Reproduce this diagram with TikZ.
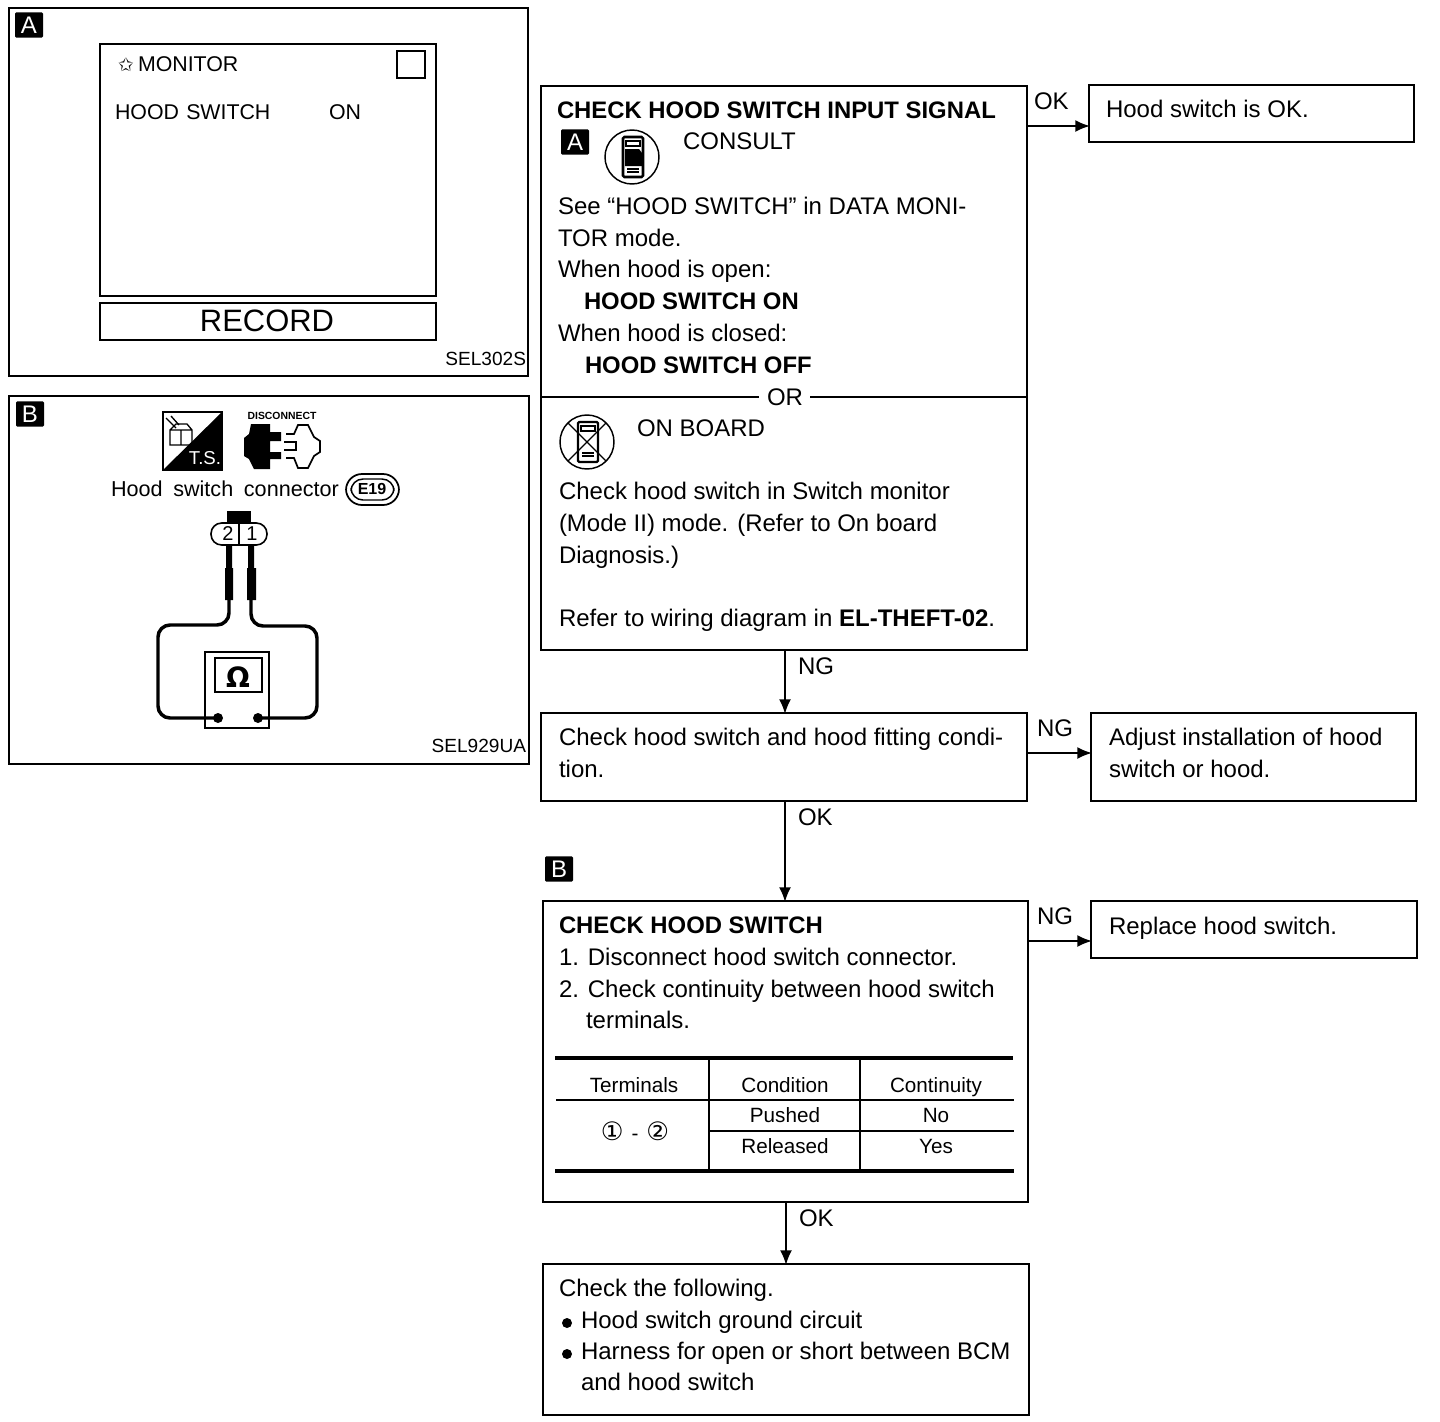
\documentclass[tikz,border=0pt]{standalone}
\usepackage{fontspec}
\setmainfont{Liberation Sans}
\newfontfamily\djv{DejaVu Sans}
\usetikzlibrary{arrows.meta,fit}
\tikzset{
 every picture/.style={line width=1.5pt},
 boxs/.style={draw=black,line width=1.5pt,inner sep=0pt,fit={#1}},
 tx/.style={anchor=base west,inner sep=0pt,xshift=-0.75pt,yshift=0.75pt,font=\fontsize{18}{18}\selectfont},
 bf/.style={anchor=base west,inner sep=0pt,xshift=-0.75pt,yshift=0.75pt,font=\fontsize{17.9}{18}\selectfont\bfseries},
 mon/.style={anchor=base west,inner sep=0pt,font=\fontsize{16}{16}\selectfont},
 cell/.style={anchor=base,inner sep=0pt,font=\fontsize{15.5}{15.5}\selectfont},
 code/.style={anchor=base east,inner sep=0pt,font=\fontsize{14.3}{15}\selectfont},
 tag/.style={fill=black,text=white,inner sep=0pt,rounded corners=1pt,font=\fontsize{18}{18}\selectfont,minimum width=21pt,minimum height=19pt},
 flow/.style={line width=1.5pt,shorten >=-1.5pt,-{Latex[length=11pt,width=9pt]}},
 rule/.style={line width=1.1pt},
 thick rule/.style={line width=2.6pt},
 wire/.style={line width=2.6pt,rounded corners=9pt},
}
\begin{document}
\begin{tikzpicture}[x=0.75pt,y=-0.75pt]
\useasboundingbox[fill=white] (0,0) rectangle (1440,1422);
% panel A
\node[boxs={(9,8)(528,376)}] (panelA) {};
\node[tag] (tagA) at (29,25) {A};
\node[boxs={(100,44)(436,296)}] (screen) {};
\node[boxs={(397,51)(425,78)}] (square) {};
\node[boxs={(100,303)(436,340)}] (recbox) {};
\node[anchor=center,inner sep=0pt,font=\fontsize{23.2}{24}\selectfont] (record) at (267,321) {RECORD};
\node[mon] (star) at (117,71) {\djv\fontsize{14}{14}\selectfont\char"2729};
\node[mon] (monitor) at (137,71) {MONITOR};
\node[mon] (hs) at (114,119) {HOOD\hspace{1pt} SWITCH};
\node[mon] (on) at (328,119) {ON};
\node[code] (sel1) at (527,365) {SEL302S};
% panel B
\node[boxs={(9,396)(529,764)}] (panelB) {};
\node[tag] (tagB) at (30,414) {B};
% T.S. icon
\node[boxs={(163,412)(222,470)}] (ts) {};
\fill (222,412) -- (222,470) -- (163,470) -- cycle;
\node[anchor=center,inner sep=0pt,text=white,font=\fontsize{14}{14}\selectfont] (tst) at (205,458) {T.S.};
\draw[line width=1pt] (170,430) rectangle (181,445) (181,430) rectangle (192,445) (170,430) -- (176,424) -- (187,424) -- (192,430) (192,430) -- (181,430);
\draw[line width=1pt] (166,418) -- (176,428) (171,416) -- (179,425);
% disconnect icon
\node[anchor=center,inner sep=0pt,font=\fontsize{7.8}{7.8}\selectfont\bfseries] (disc) at (282,416) {DISCONNECT};
\fill (251,424) -- (270,424) -- (270,432) -- (281,432) -- (281,441) -- (270,441) -- (270,452) -- (281,452) -- (281,459) -- (270,459) -- (270,469) -- (254,469) -- (249,459) -- (244,456) -- (244,438) -- (249,434) -- cycle;
\draw[line width=1.3pt] (286,434) -- (294,434) -- (298,425) -- (308,425) -- (314,437) -- (320,441) -- (320,452) -- (314,456) -- (308,468) -- (298,468) -- (294,458) -- (286,458);
\draw[line width=1.3pt] (284,442) -- (296,442) -- (296,450) -- (284,450);
\node[tx] (hsc) at (111,497) {\fontsize{16.2}{16}\selectfont Hood\hspace{3.5pt} switch\hspace{3.5pt} connector};
\draw[line width=1.3pt,rounded corners=12pt] (346,474) rectangle (399,505);
\draw[line width=1.1pt,rounded corners=9pt] (351,479) rectangle (394,500);
\node[anchor=center,inner sep=0pt,font=\fontsize{12}{12}\selectfont\bfseries] (e19) at (372,489) {E19};
% harness connector
\draw[line width=1.2pt,rounded corners=8pt] (211,523) rectangle (267,545);
\fill (227,511) rectangle (251,523);
\draw[line width=1.2pt] (239,523) -- (239,545);
\node[anchor=center,inner sep=0pt,font=\fontsize{15}{15}\selectfont] (t2) at (228,534) {2};
\node[anchor=center,inner sep=0pt,font=\fontsize{15}{15}\selectfont] (t1) at (252,534) {1};
\fill (226,545) rectangle (232,568) (225,568) rectangle (233,600);
\fill (248,545) rectangle (254,568) (247,568) rectangle (256,600);
\node[boxs={(205,652)(269,728)}] (meter) {};
\node[boxs={(215,658)(262,692)}] (mscreen) {};
\node[anchor=center,inner sep=0pt,font=\fontsize{21}{21}\selectfont\bfseries] (ohm) at (238,677) {\djv\bfseries\char"03A9};
\coordinate (d1) at (218,718);
\coordinate (d2) at (258,718);
\draw[wire] (229,600) -- (229,625) -- (158,625) -- (158,718) -- (d1);
\draw[wire] (251,600) -- (251,626) -- (317,626) -- (317,718) -- (d2);
\fill (d1) circle (5) (d2) circle (5);
% box 1
\node[boxs={(541,86)(1027,650)}] (b1) {};
\node[bf] at (557,119) {CHECK HOOD SWITCH INPUT SIGNAL};
\node[tag] (tagA2) at (575,142) {A};
\coordinate (ic1) at (632,157);
\draw[line width=1.1pt] (ic1) circle (27);
\draw[line width=1.9pt,rounded corners=1pt] (623,137) rectangle (643,177);
\draw[line width=1pt] (626,141) rectangle (640,146);
\fill (625,149) -- (639,149) -- (642,153) -- (642,166) -- (625,166) -- cycle;
\draw[line width=1pt] (627,169) -- (639,169) (627,172) -- (639,172);
\node[tx] at (683,150) {CONSULT};
\node[tx] at (558,215) {See “HOOD SWITCH” in DATA MONI-};
\node[tx] at (558,247) {TOR mode.};
\node[tx] at (558,278) {When hood is open:};
\node[bf] at (584,310) {HOOD SWITCH ON};
\node[tx] at (558,342) {When hood is closed:};
\node[bf] at (585,374) {HOOD SWITCH OFF};
\node[anchor=center,inner sep=0pt,font=\fontsize{18}{18}\selectfont] (or) at (785,397) {OR};
\coordinate (dl) at (541,397);
\coordinate (dr) at (1027,397);
\draw (dl) -- (759,397) (810,397) -- (dr);
\coordinate (ic2) at (587,442);
\draw[line width=1.1pt] (ic2) circle (27);
\draw[line width=1.7pt,rounded corners=1pt] (578,422) rectangle (598,462);
\draw[line width=1pt] (568,423) -- (606,461) (606,423) -- (568,461);
\draw[line width=1pt] (581,426) rectangle (595,431);
\draw[line width=1pt] (582,453) -- (594,453) (582,456) -- (594,456);
\node[tx] at (637,437) {ON BOARD};
\node[tx] at (559,500) {Check hood switch in Switch monitor};
\node[tx] at (559,532) {(Mode II) mode. (Refer to On board};
\node[tx] at (559,564) {Diagnosis.)};
\node[tx] at (559,627) {Refer to wiring diagram in \textbf{EL-THEFT-02}.};
% ok box
\node[boxs={(1089,85)(1414,142)}] (okb) {};
\node[tx] at (1106,118) {Hood switch is OK.};
\node[tx] at (1034,110) {OK};
\coordinate (s1) at (1027,126);
\draw[flow] (s1) -- (s1 -| okb.west);
% box 2
\node[boxs={(541,713)(1027,801)}] (b2) {};
\node[tx] at (559,746) {Check hood switch and hood fitting condi-};
\node[tx] at (559,778) {tion.};
\coordinate (s2) at (785,650);
\draw[flow] (s2) -- (s2 |- b2.north);
\node[tx] at (798,675) {NG};
% adjust
\node[boxs={(1091,713)(1416,801)}] (adj) {};
\node[tx] at (1109,746) {Adjust installation of hood};
\node[tx] at (1109,778) {switch or hood.};
\coordinate (s3) at (1027,753);
\draw[flow] (s3) -- (s3 -| adj.west);
\node[tx] at (1037,737) {NG};
% box 3
\node[boxs={(543,901)(1028,1202)}] (b3) {};
\coordinate (s4) at (785,801);
\draw[flow] (s4) -- (s4 |- b3.north);
\node[tx] at (798,826) {OK};
\node[tag] (tagB2) at (559,869) {B};
\node[bf] at (559,934) {CHECK HOOD SWITCH};
\node[tx] at (559,966) {1. Disconnect hood switch connector.};
\node[tx] at (559,998) {2. Check continuity between hood switch};
\node[tx] at (586,1029) {terminals.};
% table
\draw[thick rule] (555,1058) -- (1013,1058) (555,1171) -- (1014,1171);
\draw[line width=2pt] (709,1058) -- (709,1171) (860,1058) -- (860,1171);
\draw[rule] (556,1100) -- (1014,1100) (709,1131) -- (1014,1131);
\node[cell] at (634,1092) {Terminals};
\node[cell] at (785,1092) {Condition};
\node[cell] at (936,1092) {Continuity};
\node[cell] at (785,1122) {Pushed};
\node[cell] at (936,1122) {No};
\node[cell] at (785,1153) {Released};
\node[cell] at (936,1153) {Yes};
\node[anchor=center,inner sep=0pt,font=\fontsize{19}{19}\selectfont] at (635,1131) {{\djv\char"2460}\hspace{6pt}{\fontsize{15.5}{15.5}\selectfont-}\hspace{6pt}{\djv\char"2461}};
% replace
\node[boxs={(1091,901)(1417,958)}] (rep) {};
\node[tx] at (1109,935) {Replace hood switch.};
\coordinate (s5) at (1028,941);
\draw[flow] (s5) -- (s5 -| rep.west);
\node[tx] at (1037,925) {NG};
% box 4
\node[boxs={(543,1264)(1029,1415)}] (b4) {};
\coordinate (s6) at (786,1202);
\draw[flow] (s6) -- (s6 |- b4.north);
\node[tx] at (799,1227) {OK};
\node[tx] at (559,1297) {Check the following.};
\fill (567,1323) circle (5) (567,1354) circle (5);
\node[tx] at (581,1329) {Hood switch ground circuit};
\node[tx] at (581,1360) {Harness for open or short between BCM};
\node[tx] at (581,1391) {and hood switch};
\node[code] (sel2) at (527,752) {SEL929UA};
\end{tikzpicture}
\end{document}
